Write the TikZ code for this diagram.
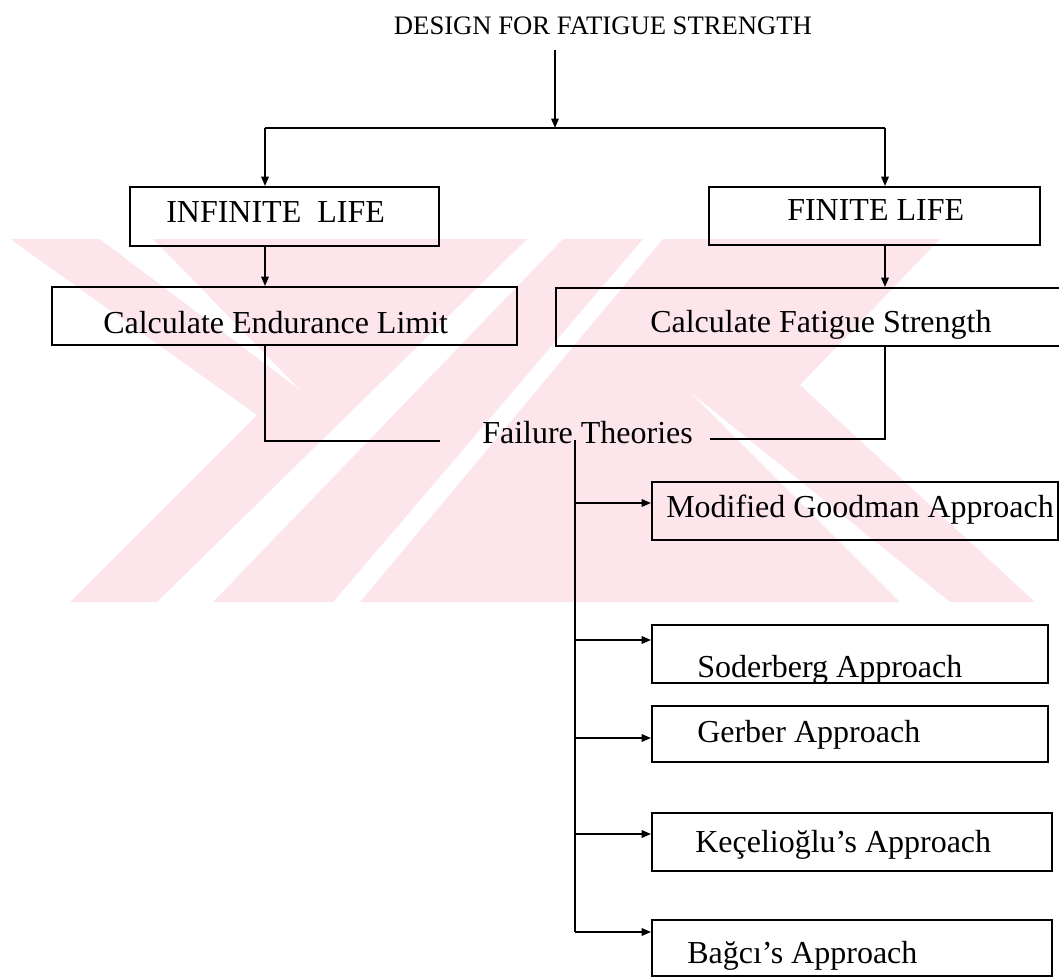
\documentclass[tikz,border=0pt]{standalone}
\usepackage{fontspec}
\setmainfont{Liberation Serif}
\usetikzlibrary{arrows.meta,fit}
\definecolor{wmpink}{RGB}{252,229,235}
\begin{document}
\begin{tikzpicture}[x=0.75pt,y=-0.75pt,
  wire/.style={line width=1.4pt},
  arr/.style={wire,-{Triangle[length=7pt,width=5.5pt]}},
  box/.style={draw,line width=1.4pt,inner sep=0pt},
  lbl/.style={inner sep=0pt,anchor=base west,font=\fontsize{24}{28}\selectfont}]
\clip (0,0) rectangle (1059,977);

% faint striped emblem in the background
\fill[wmpink] (10,239) -- (527,239) -- (157,602) -- (70,602) -- (257,415) -- cycle;
\fill[white] (100,239) -- (153,239) -- (300,390) -- cycle;
\fill[wmpink] (563,239) -- (643,239) -- (333,602) -- (213,602) -- cycle;
\fill[wmpink] (663,239) -- (940,239) -- (800,385) -- (1035,602) -- (360,602) -- cycle;
\fill[white] (690,392) -- (950,602) -- (900,602) -- cycle;

% title
\node[inner sep=0pt,anchor=base,font=\fontsize{20}{24}\selectfont] (title) at (603,35) {DESIGN FOR FATIGUE STRENGTH};

% boxes
\node[box,fit={(130,187) (439,246)}] (inf) {};
\node[box,fit={(709,187) (1040,245)}] (fin) {};
\node[box,fit={(52,287) (517,345)}] (endu) {};
\node[box,fit={(556,288) (1075,346)}] (fat) {};
\node[box,fit={(652,482) (1058,540)}] (mg) {};
\node[box,fit={(652,625) (1048,683)}] (sod) {};
\node[box,fit={(652,706) (1048,762)}] (ger) {};
\node[box,fit={(652,813) (1052,871)}] (kec) {};
\node[box,fit={(652,920) (1052,976)}] (bag) {};

% box texts
\node[lbl] (inft) at (166,222) {INFINITE\ \ LIFE};
\node[lbl] (fint) at (787,220) {FINITE LIFE};
\node[lbl] (endt) at (103,333) {Calculate Endurance Limit};
\node[lbl] (fatt) at (650,332) {Calculate Fatigue Strength};
\node[lbl] (ftt) at (482,443) {Failure Theories};
\node[lbl] (mgt) at (666,517) {Modified Goodman Approach};
\node[lbl] (sodt) at (697,677) {Soderberg Approach};
\node[lbl] (gert) at (697,742) {Gerber Approach};
\node[lbl] (kect) at (695,852) {Keçelioğlu’s Approach};
\node[lbl] (bagt) at (687,963) {Bağcı’s Approach};

% junction points
\coordinate (tstart) at (555,50);
\coordinate (split) at (555,128);
\coordinate (jl) at (265,128);
\coordinate (jr) at (885,128);
\coordinate (ftl) at (440,441);
\coordinate (ftr) at (710,439);
\coordinate (trunk) at (575,440);
\coordinate (b1) at (575,503);
\coordinate (b2) at (575,640);
\coordinate (b3) at (575,738);
\coordinate (b4) at (575,834);
\coordinate (b5) at (575,932);

% connectors
\draw[arr] (tstart) -- (split);
\draw[wire] (jl) -- (jr);
\draw[arr] (jl) -- (jl |- inf.north);
\draw[arr] (jr) -- (jr |- fin.north);
\draw[arr] (jl |- inf.south) -- (jl |- endu.north);
\draw[arr] (jr |- fin.south) -- (jr |- fat.north);
\draw[wire] (jl |- endu.south) |- (ftl);
\draw[wire] (jr |- fat.south) |- (ftr);
\draw[wire] (trunk) -- (b5);
\draw[arr] (b1) -- (b1 -| mg.west);
\draw[arr] (b2) -- (b2 -| sod.west);
\draw[arr] (b3) -- (b3 -| ger.west);
\draw[arr] (b4) -- (b4 -| kec.west);
\draw[arr] (b5) -- (b5 -| bag.west);
\end{tikzpicture}
\end{document}
